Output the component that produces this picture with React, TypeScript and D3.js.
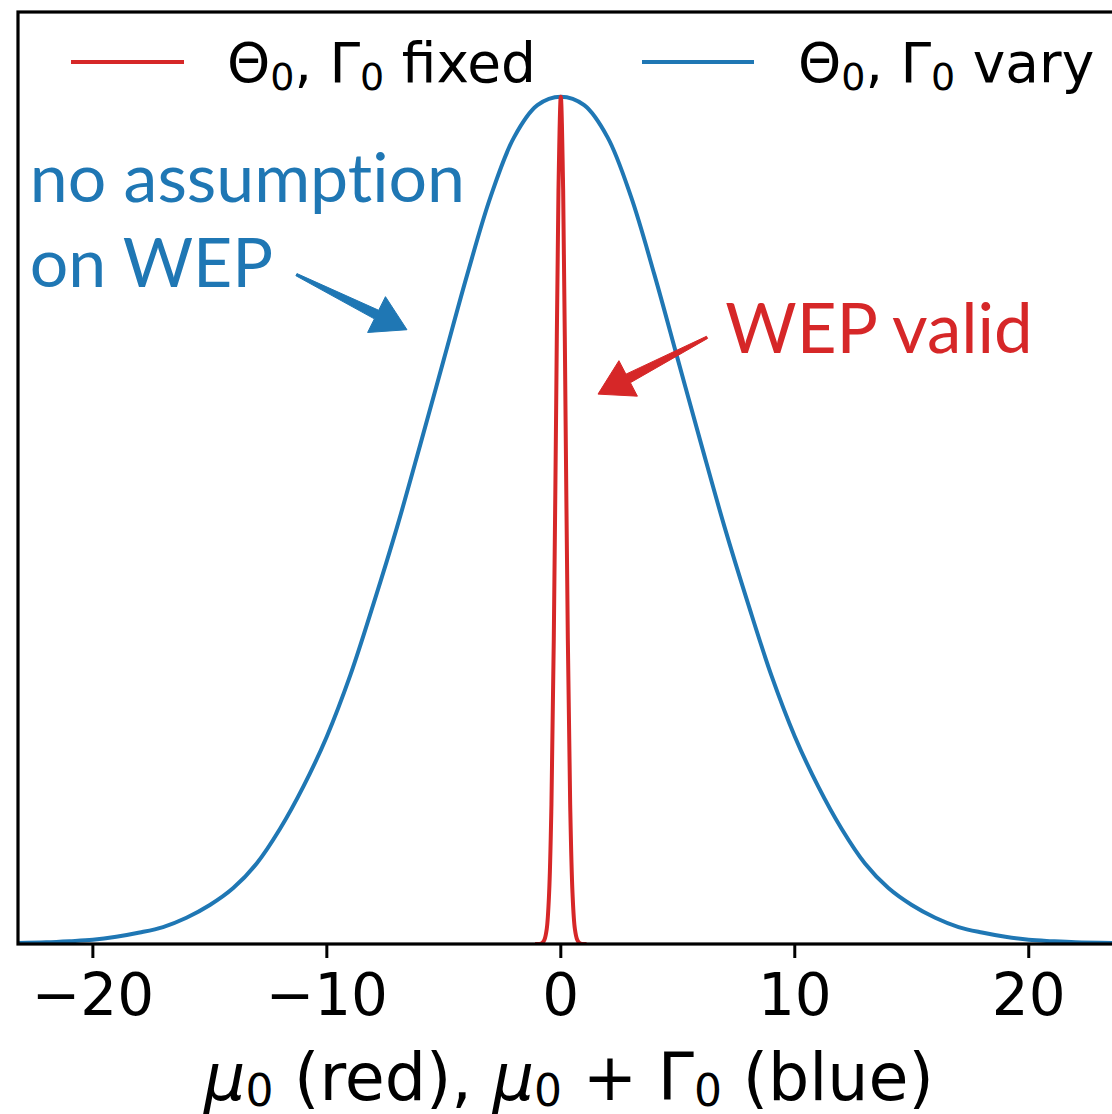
import React from "react";
import * as d3 from "d3";

// ---- data ----
const blueX = [-23.2, -22, -21, -20, -19, -18, -17, -16, -15, -14, -13, -12, -11, -10, -9, -8, -7, -6, -5, -4, -3, -2, -1, 0, 1, 2, 3, 4, 5, 6, 7, 8, 9, 10, 11, 12, 13, 14, 15, 16, 17, 18, 19, 20, 21, 22, 23.9];
const blueY = [0.0012, 0.002, 0.0033, 0.005, 0.0085, 0.0135, 0.02, 0.031, 0.046, 0.066, 0.095, 0.136, 0.186, 0.245, 0.317, 0.402, 0.492, 0.59, 0.69, 0.79, 0.882, 0.952, 0.99, 1.0, 0.99, 0.952, 0.882, 0.79, 0.69, 0.59, 0.492, 0.402, 0.317, 0.245, 0.186, 0.136, 0.095, 0.066, 0.046, 0.031, 0.02, 0.0135, 0.0085, 0.005, 0.0033, 0.002, 0.0010];

const redX = [-1.1, -1.0, -0.9, -0.8, -0.7, -0.6, -0.5, -0.4, -0.3, -0.2, -0.1, 0, 0.1, 0.2, 0.3, 0.4, 0.5, 0.6, 0.7, 0.8, 0.9, 1.0, 1.1];
const redY = [0, 0, 0, 0.001, 0.005, 0.018, 0.06, 0.165, 0.36, 0.63, 0.89, 1.0, 0.89, 0.63, 0.36, 0.165, 0.06, 0.018, 0.005, 0.001, 0, 0, 0];

const xTicks = [-20, -10, 0, 10, 20];
const xDomain = [-23.2, 23.9];
const yDomain = [0, 1.1];

const legendLabels = ["fixed", "vary"];

const BLUE = "#1f77b4";
const RED = "#d62728";

// annotation anchors (data coordinates)
const blueNoteLines = ["no assumption", "on WEP"];
const blueNoteAt = { x: -22.7, y: 0.876 };
const blueArrow = { x0: -11.3, y0: 0.79, x1: -6.575, y1: 0.725 };
const redNote = "WEP valid";
const redNoteAt = { x: 7.03, y: 0.698 };
const redArrow = { x0: 6.25, y0: 0.716, x1: 1.59, y1: 0.649 };

const W = 1112;
const H = 1114;
const M = { left: 18, top: 12, right: 1120, bottom: 944 };

function arrowPath(x0: number, y0: number, x1: number, y1: number) {
  const dx = x1 - x0, dy = y1 - y0;
  const len = Math.hypot(dx, dy);
  const ux = dx / len, uy = dy / len;
  const nx = -uy, ny = ux;
  const head = 34, hw = 20, sw = 4.8, tw = 1.2;
  const bx = x1 - ux * head, by = y1 - uy * head;
  const p = [
    [x0 + nx * tw, y0 + ny * tw],
    [bx + nx * sw, by + ny * sw],
    [bx + nx * hw, by + ny * hw],
    [x1, y1],
    [bx - nx * hw, by - ny * hw],
    [bx - nx * sw, by - ny * sw],
    [x0 - nx * tw, y0 - ny * tw],
  ];
  return "M" + p.map((q) => q[0].toFixed(2) + "," + q[1].toFixed(2)).join("L") + "Z";
}

export default function App() {
  const x = d3.scaleLinear().domain(xDomain).range([M.left, M.right]);
  const y = d3.scaleLinear().domain(yDomain).range([M.bottom, M.top]);

  const line = d3
    .line<[number, number]>()
    .x((d) => x(d[0]))
    .y((d) => y(d[1]))
    .curve(d3.curveCatmullRom.alpha(0.5));

  const blueData = blueX.map((v, i) => [v, blueY[i]] as [number, number]);
  const redData = redX.map((v, i) => [v, redY[i]] as [number, number]);

  const fmt = (d: number) => (d < 0 ? "\u2212" + Math.abs(d) : String(d));
  const dv = "DejaVu Sans";
  const note = "Lato, 'Open Sans', sans-serif";

  const legendFs = 55;
  const subFs = 38;
  const subDy = 8;

  const legendItem = (color: string, lx0: number, lx1: number, tx: number, label: string) => (
    <g>
      <line x1={lx0} x2={lx1} y1={62} y2={62} stroke={color} strokeWidth={4} />
      <text x={tx} y={82} fontFamily={dv} fontSize={legendFs} fill="#000">
        <tspan>Θ</tspan>
        <tspan fontSize={subFs} dy={subDy}>0</tspan>
        <tspan dy={-subDy}>, Γ</tspan>
        <tspan fontSize={subFs} dy={subDy}>0</tspan>
        <tspan dy={-subDy}>{" " + label}</tspan>
      </text>
    </g>
  );

  return (
    <svg
      width={W}
      height={H}
      style={{ position: "absolute", left: 0, top: 0, background: "#fff" }}
    >
      <rect x={0} y={0} width={W} height={H} fill="#fff" />
      <defs>
        <clipPath id="plot">
          <rect x={M.left} y={M.top - 4} width={M.right - M.left} height={M.bottom - M.top + 4} />
        </clipPath>
      </defs>

      <g clipPath="url(#plot)">
        <path d={line(blueData) || ""} fill="none" stroke={BLUE} strokeWidth={4} strokeLinejoin="round" />
        <path d={line(redData) || ""} fill="none" stroke={RED} strokeWidth={4} strokeLinejoin="round" />
      </g>

      {/* spines */}
      <rect
        x={M.left}
        y={M.top}
        width={M.right - M.left}
        height={M.bottom - M.top}
        fill="none"
        stroke="#000"
        strokeWidth={3.2}
      />

      {/* x ticks */}
      {xTicks.map((t) => (
        <g key={t}>
          <line x1={x(t)} x2={x(t)} y1={M.bottom} y2={M.bottom + 14} stroke="#000" strokeWidth={3} />
          <text x={x(t)} y={1015} textAnchor="middle" fontFamily={dv} fontSize={58} fill="#000">
            {fmt(t)}
          </text>
        </g>
      ))}

      {/* x label */}
      <text x={(M.left + M.right) / 2} y={1100} textAnchor="middle" fontFamily={dv} fontSize={65} fill="#000">
        <tspan fontStyle="italic">μ</tspan>
        <tspan fontSize={44} dy={6}>0</tspan>
        <tspan dy={-6}> (red), </tspan>
        <tspan fontStyle="italic">μ</tspan>
        <tspan fontSize={44} dy={6}>0</tspan>
        <tspan dy={-6}> + Γ</tspan>
        <tspan fontSize={44} dy={6}>0</tspan>
        <tspan dy={-6}> (blue)</tspan>
      </text>

      {/* legend */}
      {legendItem(RED, 71, 184, 227, legendLabels[0])}
      {legendItem(BLUE, 642, 754, 798, legendLabels[1])}

      {/* annotations */}
      {blueNoteLines.map((s, i) => (
        <text
          key={s}
          x={x(blueNoteAt.x)}
          y={y(blueNoteAt.y) + i * 85}
          fontFamily={note}
          fontSize={68}
          fill={BLUE}
          style={{ fontVariantLigatures: "none" }}
        >
          {s}
        </text>
      ))}
      <path d={arrowPath(x(blueArrow.x0), y(blueArrow.y0), x(blueArrow.x1), y(blueArrow.y1))} fill={BLUE} stroke={BLUE} strokeWidth={1} strokeLinejoin="round" />

      <text x={x(redNoteAt.x)} y={y(redNoteAt.y)} fontFamily={note} fontSize={69} fill={RED} style={{ fontVariantLigatures: "none" }}>
        {redNote}
      </text>
      <path d={arrowPath(x(redArrow.x0), y(redArrow.y0), x(redArrow.x1), y(redArrow.y1))} fill={RED} stroke={RED} strokeWidth={1} strokeLinejoin="round" />
    </svg>
  );
}
